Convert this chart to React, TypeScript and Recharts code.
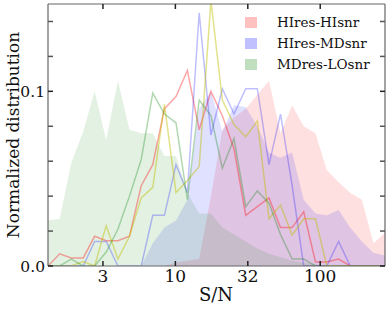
import { Area, ComposedChart, Line, XAxis, YAxis } from "recharts";

// bin centres in S/N (log-spaced)
const snrBins = [
  1.32, 1.59, 1.91, 2.31, 2.77, 3.33, 4.01, 4.82, 5.81, 6.98, 8.4, 10.1, 12.1, 14.6, 17.6,
  21.1, 25.4, 30.6, 36.8, 44.3, 53.2, 64.0, 76.9, 92.7, 111, 134, 161, 194, 233, 280,
];

// filled distributions
const hiResHiSnr = [
  0, 0, 0, 0, 0, 0, 0, 0, 0, 0, 0, 0.002, 0.003, 0.004, 0.04, 0.078, 0.085, 0.09, 0.098,
  0.106, 0.076, 0.092, 0.08, 0.076, 0.055, 0.048, 0.042, 0.038, 0.013, 0.019,
];
const hiResMdSnr = [
  0, 0, 0, 0, 0, 0, 0, 0, 0, 0.013, 0.022, 0.026, 0.038, 0.09, 0.1, 0.077, 0.092, 0.091,
  0.08, 0.065, 0.062, 0.065, 0.038, 0.03, 0.029, 0.032, 0.022, 0.014, 0.0076, 0.006,
];
const mdResLoSnr = [
  0.026, 0.027, 0.059, 0.077, 0.1, 0.072, 0.106, 0.078, 0.076, 0.076, 0.063, 0.063, 0.042,
  0.03, 0.03, 0.022, 0.018, 0.014, 0.01, 0.007, 0.005, 0.003, 0.002, 0.001, 0, 0, 0, 0, 0, 0,
];

// line distributions
const pinkLine = [
  0, 0.007, 0.0046, 0.0046, 0.017, 0.0145, 0.0145, 0.017, 0.046, 0.058, 0.09, 0.097, 0.112,
  0.078, 0.1, 0.086, 0.067, 0.029, 0.034, 0.039, 0.022, 0.022, 0.031, 0.0023, 0.0023, 0.004,
  0, 0, 0, 0,
];
const blueLine = [
  0, 0, 0, 0, 0.014, 0.014, 0, 0, 0, 0.029, 0.029, 0.058, 0.042, 0.145, 0.075, 0.1015,
  0.087, 0.1015, 0.1015, 0.058, 0.087, 0.046, 0, 0, 0, 0.014, 0, 0, 0, 0,
];
const yellowLine = [
  0, 0, 0, 0.0025, 0, 0.023, 0.004, 0.017, 0.039, 0.045, 0.0925, 0.042, 0.049, 0.057, 0.152,
  0.095, 0.081, 0.074, 0.083, 0.027, 0.035, 0.0176, 0.027, 0.027, 0, 0, 0, 0, 0, 0,
];
const greenLine = [
  0, 0, 0.004, 0, 0, 0.008, 0.021, 0.04, 0.061, 0.099, 0.087, 0.082, 0.038, 0.095, 0.086,
  0.056, 0.073, 0.034, 0.043, 0.036, 0.018, 0.004, 0.004, 0, 0, 0, 0, 0, 0, 0,
];

const xTicks = [3.1623, 10, 31.623, 100];
const xTickLabels = ["3", "10", "32", "100"];
const yTicks = [0, 0.02, 0.04, 0.06, 0.08, 0.1, 0.12, 0.14];
const yMajor = [0, 0.1];
const yMajorLabels = ["0.0", "0.1"];

const legendItems = [
  { name: "HIres-HIsnr", color: "#ffc0c0" },
  { name: "HIres-MDsnr", color: "#c0c0ff" },
  { name: "MDres-LOsnr", color: "#bfdfbf" },
];

const data = snrBins.map((snr, i) => ({
  snr,
  hiHi: hiResHiSnr[i],
  hiMd: hiResMdSnr[i],
  mdLo: mdResLoSnr[i],
  pink: pinkLine[i],
  blue: blueLine[i],
  yellow: yellowLine[i],
  green: greenLine[i],
}));

const serif = "'DejaVu Serif', serif";
const frame = { stroke: "#666", strokeWidth: 1.2 };

const BottomTick = (props: any) => {
  const { x, y, payload } = props;
  const label = xTickLabels[xTicks.indexOf(payload.value)];
  return (
    <g>
      <line x1={x} x2={x} y1={y} y2={y - 5} stroke="#222" strokeWidth={1.5} />
      <text x={x} y={y + 16} textAnchor="middle" fontSize={17} fontFamily={serif} fill="#111">
        {label}
      </text>
    </g>
  );
};

const TopTick = (props: any) => {
  const { x, y } = props;
  return <line x1={x} x2={x} y1={y} y2={y + 5} stroke="#222" strokeWidth={1.5} />;
};

const LeftTick = (props: any) => {
  const { x, y, payload } = props;
  const idx = yMajor.indexOf(payload.value);
  const major = idx >= 0;
  return (
    <g>
      <line x1={x} x2={x + 5} y1={y} y2={y} stroke={major ? "#222" : "#555"} strokeWidth={1.5} />
      {major && (
        <text x={x - 3} y={y + 5.5} textAnchor="end" fontSize={15.5} fontFamily={serif} fill="#111">
          {yMajorLabels[idx]}
        </text>
      )}
    </g>
  );
};

const RightTick = (props: any) => {
  const { x, y, payload } = props;
  const major = yMajor.includes(payload.value);
  return <line x1={x} x2={x - 5} y1={y} y2={y} stroke={major ? "#222" : "#555"} strokeWidth={1.5} />;
};

export default function App() {
  return (
    <div style={{ position: "absolute", left: 0, top: 0, width: 390, height: 312 }}>
      <ComposedChart width={390} height={312} data={data} margin={{ top: 4, right: 5, bottom: 0, left: 0 }}>
        <XAxis
          dataKey="snr"
          type="number"
          scale="log"
          domain={[1.32, 280]}
          allowDataOverflow
          ticks={xTicks}
          interval={0}
          height={46}
          tickSize={0}
          tickMargin={0}
          tickLine={false}
          axisLine={frame}
          tick={BottomTick}
        />
        <XAxis
          xAxisId="top"
          orientation="top"
          dataKey="snr"
          type="number"
          scale="log"
          domain={[1.32, 280]}
          allowDataOverflow
          ticks={xTicks}
          interval={0}
          height={0.01}
          tickSize={0}
          tickMargin={0}
          tickLine={false}
          axisLine={frame}
          tick={TopTick}
        />
        <YAxis
          type="number"
          domain={[0, 0.15]}
          allowDataOverflow
          ticks={yTicks}
          interval={0}
          width={48}
          tickSize={0}
          tickMargin={0}
          tickLine={false}
          axisLine={frame}
          tick={LeftTick}
        />
        <YAxis
          yAxisId="right"
          orientation="right"
          type="number"
          domain={[0, 0.15]}
          allowDataOverflow
          ticks={yTicks}
          interval={0}
          width={0.01}
          tickSize={0}
          tickMargin={0}
          tickLine={false}
          axisLine={frame}
          tick={RightTick}
        />
        <Area dataKey="hiHi" type="linear" stroke="none" fill="#ff0000" fillOpacity={0.12} isAnimationActive={false} />
        <Area dataKey="hiMd" type="linear" stroke="none" fill="#0000ff" fillOpacity={0.12} isAnimationActive={false} />
        <Area dataKey="mdLo" type="linear" stroke="none" fill="#008000" fillOpacity={0.11} isAnimationActive={false} />
        <Line dataKey="pink" type="linear" stroke="#ff0000" strokeOpacity={0.35} strokeWidth={1.5} dot={false} isAnimationActive={false} />
        <Line dataKey="blue" type="linear" stroke="#0000ff" strokeOpacity={0.25} strokeWidth={1.5} dot={false} isAnimationActive={false} />
        <Line dataKey="yellow" type="linear" stroke="#bfbf00" strokeOpacity={0.45} strokeWidth={1.5} dot={false} isAnimationActive={false} />
        <Line dataKey="green" type="linear" stroke="#008000" strokeOpacity={0.3} strokeWidth={1.5} dot={false} isAnimationActive={false} />
        {/* invisible series so the mirrored top/right frame axes get drawn */}
        <Line
          xAxisId="top"
          yAxisId="right"
          dataKey="green"
          stroke="none"
          dot={false}
          activeDot={false}
          legendType="none"
          isAnimationActive={false}
        />
      </ComposedChart>
      <svg width={390} height={312} style={{ position: "absolute", left: 0, top: 0, pointerEvents: "none" }}>
        <text x={216} y={301} textAnchor="middle" fontSize={18} fontFamily={serif} fill="#111">
          S/N
        </text>
        <text
          x={18.5}
          y={135}
          transform="rotate(-90 18.5 135)"
          textAnchor="middle"
          fontSize={17}
          fontFamily={serif}
          fill="#111"
        >
          Normalized distribution
        </text>
      </svg>
      <div style={{ position: "absolute", left: 245, top: 12, fontFamily: serif, fontSize: 13.5, color: "#111" }}>
        {legendItems.map((item) => (
          <div key={item.name} style={{ display: "flex", alignItems: "center", height: 21 }}>
            <span style={{ width: 12, height: 11, background: item.color, marginRight: 20 }} />
            <span style={{ lineHeight: 1 }}>{item.name}</span>
          </div>
        ))}
      </div>
    </div>
  );
}
